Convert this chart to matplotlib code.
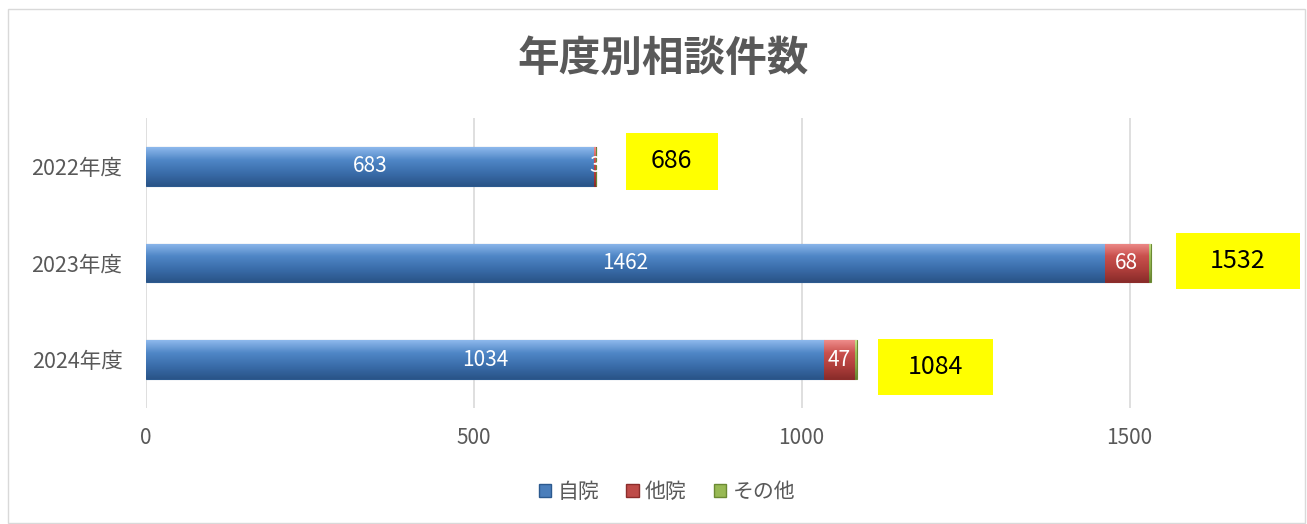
import numpy as np
import matplotlib.pyplot as plt
from matplotlib.patches import Patch, Rectangle
from matplotlib.colors import LinearSegmentedColormap

plt.rcParams['font.family'] = ['Noto Sans CJK JP', 'DejaVu Sans']

# data
years = ['2022年度', '2023年度', '2024年度']
own = [683, 1462, 1034]      # 自院
other_hosp = [3, 68, 47]     # 他院
others = [0, 2, 3]           # その他
series_names = ['自院', '他院', 'その他']
totals = [686, 1532, 1084]

colors = ['#4A7EBB', '#BE4B48', '#98B954']
edges = ['#2C5A8F', '#8C2D2B', '#6B8A33']
grads = [['#8DB8EC', '#4F86C6', '#3A6DAA', '#2A5488'],
         ['#EE8C8A', '#C9504D', '#B03F3C', '#8A2C2A'],
         ['#C6E28A', '#9BBE58', '#87A846', '#66812F']]
grey = '#595959'

fig = plt.figure(figsize=(13.07, 5.24), dpi=100)
ax = fig.add_axes([146 / 1307, 1 - 408 / 524, 1154 / 1307, 290 / 524])

y = np.arange(len(years))
h = 0.4
left = np.zeros(len(years))
grad = np.linspace(0, 1, 64).reshape(-1, 1)
for vals, c, ec, g in zip([own, other_hosp, others], colors, edges, grads):
    bars = ax.barh(y, vals, height=h, left=left, color=c, edgecolor=ec, linewidth=0.8, zorder=3)
    cmap = LinearSegmentedColormap.from_list('g', g)
    for b in bars:
        x0, y0 = b.get_x(), b.get_y()
        w, hh = b.get_width(), b.get_height()
        if w <= 0:
            continue
        im = ax.imshow(grad, cmap=cmap, aspect='auto', extent=(x0, x0 + w, y0 + hh, y0),
                       zorder=3.5, interpolation='bilinear')
        im.set_clip_path(b)
    left += np.array(vals)

# data labels
for i in range(len(years)):
    ax.text(own[i] / 2, y[i], str(own[i]), color='white', fontsize=15,
            ha='center', va='center', zorder=5)
    ax.text(own[i] + other_hosp[i] / 2, y[i], str(other_hosp[i]), color='white',
            fontsize=15, ha='center', va='center', zorder=5)

# yellow total boxes (offset from total, width, top, bottom)
boxes = [(46, 140, -0.34, 0.24), (39, 189, -0.31, 0.27), (32, 176, -0.21, 0.37)]
for i, t in enumerate(totals):
    dx, bw, top, bot = boxes[i]
    ax.add_patch(Rectangle((t + dx, y[i] + top), bw, bot - top, facecolor='#FFFF00',
                           edgecolor='none', zorder=6, clip_on=False))
    ax.text(t + dx + bw / 2, y[i] + (top + bot) / 2, str(t), fontsize=18, color='black',
            ha='center', va='center', zorder=7)

ax.set_xlim(0, 1760)
ax.set_ylim(2.5, -0.5)
ax.set_xticks([0, 500, 1000, 1500])
ax.set_yticks(y)
ax.set_yticklabels(years)
ax.tick_params(axis='x', length=0, labelsize=15, colors=grey, pad=14)
ax.tick_params(axis='y', length=0, labelsize=15.5, colors=grey, pad=17)
ax.grid(axis='x', color='#D9D9D9', linewidth=1.2, zorder=0)
for s in ax.spines.values():
    s.set_visible(False)

fig.text(663 / 1307, 1 - 59 / 524, '年度別相談件数', fontsize=30, fontweight='bold',
         color=grey, ha='center', va='center')

handles = [Patch(facecolor=c, edgecolor=ec) for c, ec in zip(colors, edges)]
fig.legend(handles, series_names, loc='center', bbox_to_anchor=(667 / 1307, 1 - 492 / 524),
           ncol=3, frameon=False, fontsize=15, labelcolor=grey, handlelength=0.6,
           handleheight=0.6, handletextpad=0.3, columnspacing=1.3)

fig.patches.append(Rectangle((8 / 1307, 0.002), 1297 / 1307, 1 - 10 / 524,
                             transform=fig.transFigure, fill=False,
                             edgecolor='#D9D9D9', linewidth=1))

fig.savefig('out.png', dpi=100)
